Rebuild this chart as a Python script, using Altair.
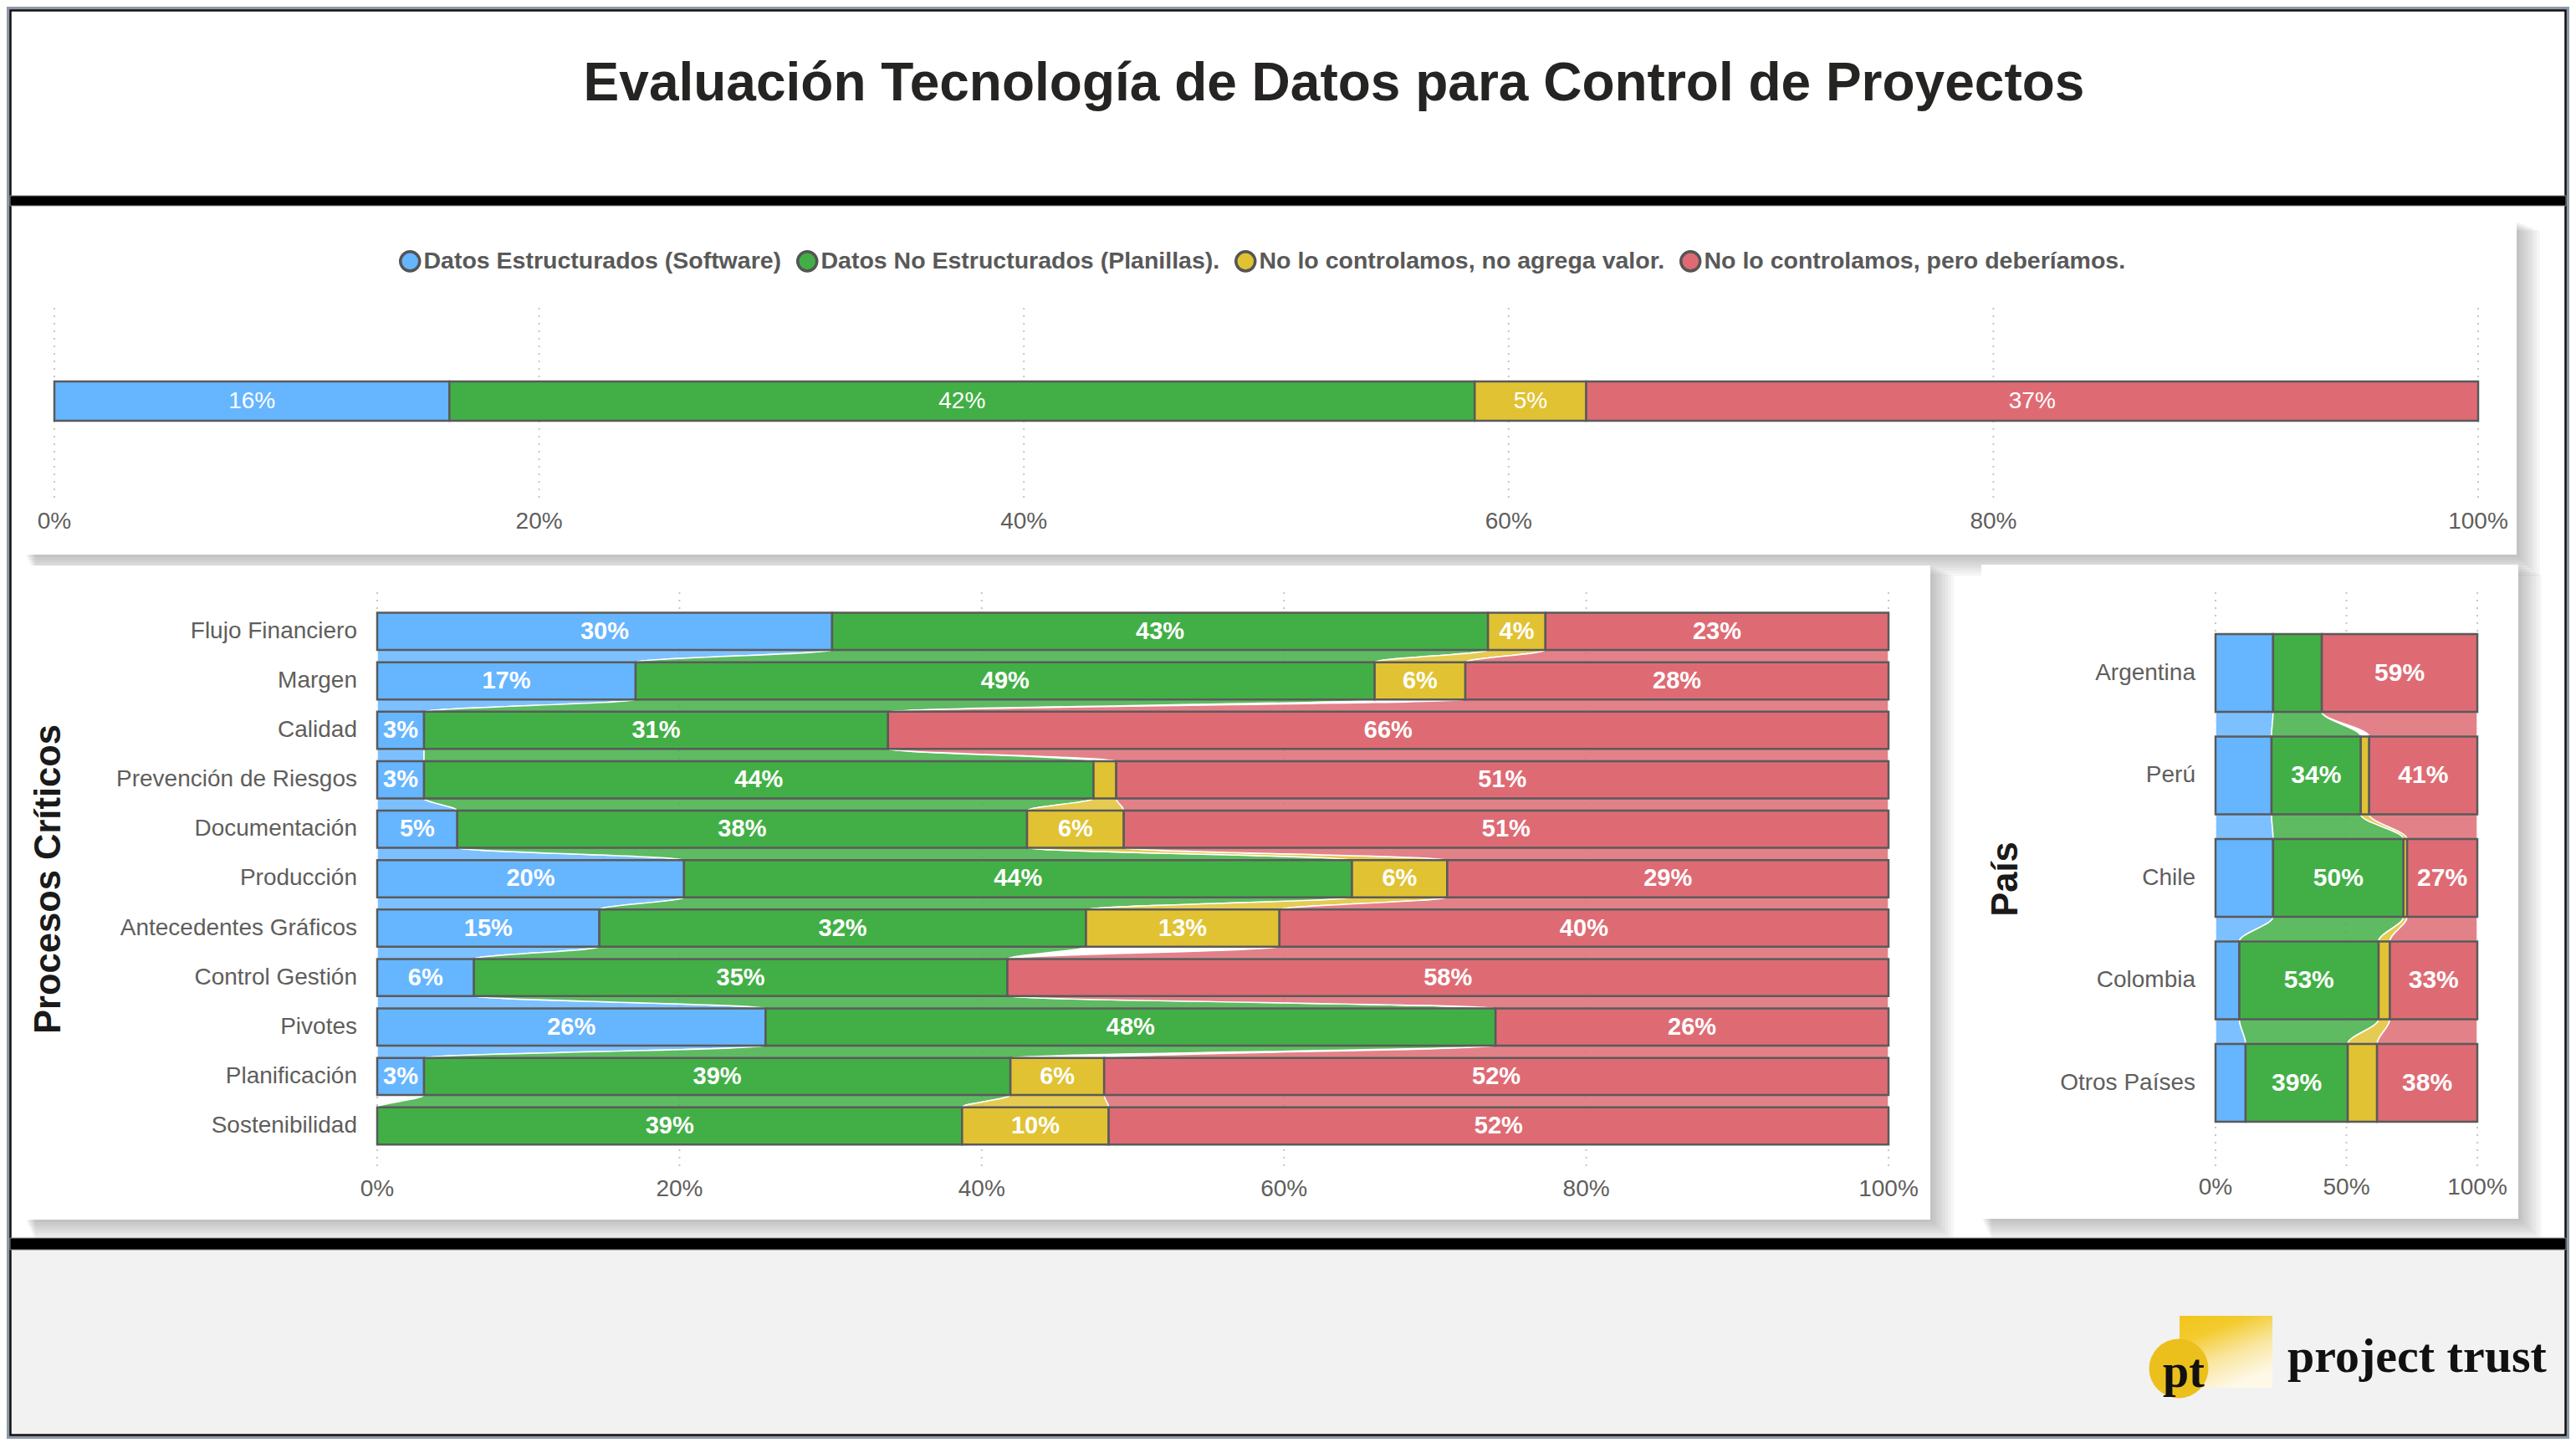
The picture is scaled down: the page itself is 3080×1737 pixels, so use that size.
import altair as alt
import pandas as pd

# ---------------- data ----------------
series = ["Datos Estructurados (Software)", "Datos No Estructurados (Planillas).",
          "No lo controlamos, no agrega valor.", "No lo controlamos, pero deberíamos."]
colors = ["#66B5FF", "#42AF46", "#E1C233", "#DE6B74"]

total_software = [0.163]
total_planillas = [0.423]
total_no_valor = [0.046]
total_deberiamos = [0.368]

procesos = ["Flujo Financiero", "Margen", "Calidad", "Prevención de Riesgos", "Documentación",
            "Producción", "Antecedentes Gráficos", "Control Gestión", "Pivotes", "Planificación",
            "Sostenibilidad"]
proc_software = [0.301, 0.171, 0.031, 0.031, 0.053, 0.203, 0.147, 0.064, 0.257, 0.031, 0.0]
proc_planillas = [0.434, 0.489, 0.307, 0.443, 0.377, 0.442, 0.322, 0.353, 0.483, 0.388, 0.387]
proc_no_valor = [0.038, 0.060, 0.0, 0.015, 0.064, 0.063, 0.128, 0.0, 0.0, 0.062, 0.097]
proc_deberiamos = [0.227, 0.280, 0.662, 0.511, 0.506, 0.292, 0.403, 0.583, 0.260, 0.519, 0.516]

paises = ["Argentina", "Perú", "Chile", "Colombia", "Otros Países"]
pais_software = [0.220, 0.214, 0.220, 0.091, 0.115]
pais_planillas = [0.186, 0.341, 0.498, 0.532, 0.390]
pais_no_valor = [0.0, 0.032, 0.014, 0.043, 0.112]
pais_deberiamos = [0.594, 0.413, 0.268, 0.334, 0.383]

ticks_pct = [0, 0.2, 0.4, 0.6, 0.8, 1.0]
ticks_pais = [0, 0.5, 1.0]

titulo = "Evaluación Tecnología de Datos para Control de Proyectos"
eje_procesos = "Procesos Críticos"
eje_pais = "País"
marca = "project trust"
marca_corta = "pt"

# ---------------- helpers ----------------
W, H = 3064, 1712
OFF = 8


def P(v):
    return v - OFF


one = pd.DataFrame({"d": [0]})
FONT = "Liberation Sans"
AXIS_GRAY = "#605E5C"
cscale = alt.Scale(domain=series, range=colors)


def rect(x0, y0, x1, y1, **kw):
    return alt.Chart(one).mark_rect(**kw).encode(
        x=alt.value(P(x0)), x2=alt.value(P(x1)), y=alt.value(P(y0)), y2=alt.value(P(y1)))


def panel(x0, y0, x1, y1):
    out = []
    for k in range(1, 9):
        out.append(rect(x0 + 1.5 * k, y0 + 1.5 * k, x1 + 3.5 * k, y1 + 3.2 * k,
                        fill="black", opacity=0.03))
    out.append(rect(x0, y0, x1, y1, fill="white"))
    return out


def seg_df(cats, cols):
    rows = []
    for i, c in enumerate(cats):
        cum = 0.0
        for s, name in enumerate(series):
            v = cols[s][i]
            rows.append(dict(cat=c, i=i, serie=name, v=v, x0=cum, x1=cum + v, mid=cum + v / 2))
            cum += v
    return pd.DataFrame(rows)


def rib_df(cats, cols, h):
    rows = []
    for i in range(len(cats) - 1):
        ca, cb = 0.0, 0.0
        for s, name in enumerate(series):
            va, vb = cols[s][i], cols[s][i + 1]
            if va > 0 and vb > 0:
                key = f"{s}-{i}"
                for y, a0, a1 in [(i - h, ca, ca + va), (i + h, ca, ca + va),
                                  (i + 1 - h, cb, cb + vb), (i + 1 + h, cb, cb + vb)]:
                    rows.append(dict(key=key, serie=name, ry=y, rx0=a0, rx1=a1))
            ca += va
            cb += vb
    return pd.DataFrame(rows)


def chart_panel(cats, cols, xr, ydom, yr, h, lab_size, lab_weight, thr, ticks,
                tick_y, gy0, gy1, cat_x=None, legend=None):
    xs = alt.Scale(domain=[0, 1], range=[P(xr[0]), P(xr[1])], nice=False, zero=False)
    ys = alt.Scale(domain=ydom, range=[P(yr[0]), P(yr[1])], nice=False, zero=False)
    df = seg_df(cats, cols)
    layers = []
    tdf = pd.DataFrame({"t": ticks})
    layers.append(alt.Chart(tdf).mark_rule(color="#C8C6C4", strokeDash=[2, 7], strokeWidth=2).encode(
        x=alt.X("t:Q", scale=xs, axis=None), y=alt.value(P(gy0)), y2=alt.value(P(gy1))))
    if len(cats) > 1:
        rdf = rib_df(cats, cols, h)
        layers.append(alt.Chart(rdf).mark_area(orient="horizontal", interpolate="monotone",
                                               fillOpacity=0.85, stroke="white", strokeWidth=1.5).encode(
            y=alt.Y("ry:Q", scale=ys, axis=None),
            x=alt.X("rx0:Q", scale=xs, axis=None, stack=None),
            x2="rx1:Q",
            color=alt.Color("serie:N", scale=cscale, legend=None),
            detail="key:N"))
    col_kw = dict(scale=cscale, legend=legend) if legend is not None else dict(scale=cscale, legend=None)
    layers.append(alt.Chart(df).transform_filter("datum.v > 0").transform_calculate(
        ya=f"datum.i - {h}", yb=f"datum.i + {h}").mark_rect(stroke="#5A5A5A", strokeWidth=2.5).encode(
        x=alt.X("x0:Q", scale=xs, axis=None), x2="x1:Q",
        y=alt.Y("ya:Q", scale=ys, axis=None), y2="yb:Q",
        color=alt.Color("serie:N", **col_kw)))
    layers.append(alt.Chart(df).transform_filter(f"datum.v >= {thr}").mark_text(
        color="white", font=FONT, fontSize=lab_size, fontWeight=lab_weight, baseline="middle").encode(
        x=alt.X("mid:Q", scale=xs, axis=None), y=alt.Y("i:Q", scale=ys, axis=None),
        text=alt.Text("v:Q", format=".0%")))
    layers.append(alt.Chart(tdf).mark_text(color=AXIS_GRAY, font=FONT, fontSize=28, baseline="middle").encode(
        x=alt.X("t:Q", scale=xs, axis=None), y=alt.value(P(tick_y)),
        text=alt.Text("t:Q", format=".0%")))
    if cat_x is not None:
        cdf = pd.DataFrame({"cat": cats, "i": list(range(len(cats)))})
        layers.append(alt.Chart(cdf).mark_text(color=AXIS_GRAY, font=FONT, fontSize=28, align="right",
                                               baseline="middle").encode(
            x=alt.value(P(cat_x)), y=alt.Y("i:Q", scale=ys, axis=None), text="cat:N"))
    return alt.layer(*layers)


# ---------------- decoration ----------------
decor = []
decor.append(rect(8, 8, 3072, 1720, fill="white", fillOpacity=0, stroke="#8E9AA6", strokeWidth=8))
decor.append(rect(12.5, 12.5, 3067.5, 1715.5, fill="white", fillOpacity=0, stroke="#111111", strokeWidth=2.5))
decor.append(rect(14, 1494, 3066, 1714, fill="#F2F2F2"))
decor += panel(30, 264, 3009, 663)
decor += panel(30, 676, 2308, 1458)
decor += panel(2369, 675, 3011, 1457)
decor.append(rect(12, 234, 3068, 246, fill="black", stroke="#888888", strokeWidth=1))
decor.append(rect(12, 1480, 3068, 1494, fill="black", stroke="#888888", strokeWidth=1))

title = alt.Chart(one).mark_text(text=titulo, font=FONT, fontSize=64, fontWeight="bold",
                                 color="#252423", align="center", baseline="alphabetic").encode(
    x=alt.value(P(1595)), y=alt.value(P(120)))

ytitle1 = alt.Chart(one).mark_text(text=eje_procesos, font=FONT, fontSize=43.5, fontWeight="bold",
                                   color="#1A1A1A", angle=270, align="center", baseline="middle").encode(
    x=alt.value(P(59)), y=alt.value(P(1051)))
ytitle2 = alt.Chart(one).mark_text(text=eje_pais, font=FONT, fontSize=43.5, fontWeight="bold",
                                   color="#1A1A1A", angle=270, align="center", baseline="middle").encode(
    x=alt.value(P(2399)), y=alt.value(P(1051)))

# ---------------- charts ----------------
legend = alt.Legend(orient="none", legendX=P(476), legendY=P(298), direction="horizontal", columns=4,
                    title=None, symbolType="circle", symbolSize=530, symbolStrokeWidth=3.5,
                    symbolStrokeColor="#555555", symbolOpacity=1, labelFont=FONT, labelFontSize=28.5,
                    labelFontWeight="bold", labelColor="#595959", labelLimit=2000, labelOffset=2,
                    columnPadding=11)

top_chart = chart_panel([""], [total_software, total_planillas, total_no_valor, total_deberiamos],
                        xr=(65, 2963), ydom=[-0.5, 0.5], yr=(456, 503), h=0.5,
                        lab_size=28, lab_weight="normal", thr=0.0, ticks=ticks_pct,
                        tick_y=624, gy0=368, gy1=598, legend=legend)

left_chart = chart_panel(procesos, [proc_software, proc_planillas, proc_no_valor, proc_deberiamos],
                         xr=(451, 2258), ydom=[0, 10], yr=(754.8, 1346), h=0.376,
                         lab_size=29, lab_weight="bold", thr=0.025, ticks=ticks_pct,
                         tick_y=1422, gy0=708, gy1=1394, cat_x=427)

pais_chart = chart_panel(paises, [pais_software, pais_planillas, pais_no_valor, pais_deberiamos],
                         xr=(2649, 2962), ydom=[0, 4], yr=(804.5, 1294.5), h=0.38,
                         lab_size=30, lab_weight="bold", thr=0.25, ticks=ticks_pais,
                         tick_y=1420, gy0=708, gy1=1394, cat_x=2625)

# ---------------- logo ----------------
logo_grad = alt.Gradient(gradient="linear", x1=0, y1=0, x2=0.5, y2=1,
                         stops=[alt.GradientStop(offset=0, color="#F2C51B"),
                                alt.GradientStop(offset=0.3, color="#F3CB2E"),
                                alt.GradientStop(offset=0.65, color="#F9E6A0"),
                                alt.GradientStop(offset=1, color="#FEF8E6")])
logo_sq = rect(2606, 1573, 2717, 1659, fill=logo_grad)
logo_circ = alt.Chart(one).mark_circle(size=5030, color="#EBC01C", opacity=1).encode(
    x=alt.value(P(2605)), y=alt.value(P(1636)))
logo_pt = alt.Chart(one).mark_text(text=marca_corta, font="Liberation Serif", fontSize=56, fontWeight="bold",
                                   color="#111111", align="center", baseline="alphabetic").encode(
    x=alt.value(P(2611)), y=alt.value(P(1658)))
logo_txt = alt.Chart(one).mark_text(text=marca, font="Liberation Serif", fontSize=58, fontWeight="bold",
                                    color="#111111", align="left", baseline="alphabetic").encode(
    x=alt.value(P(2735)), y=alt.value(P(1640)))

chart = alt.layer(*decor, title, ytitle1, ytitle2, top_chart, left_chart, pais_chart,
                  logo_sq, logo_circ, logo_pt, logo_txt).resolve_scale(
    x="independent", y="independent", color="independent").properties(
    width=W, height=H, autosize=alt.AutoSizeParams(type="none"), padding=0, background="white"
).configure_view(stroke=None)

chart.save("out.html", embed_options={"renderer": "svg", "actions": False})
